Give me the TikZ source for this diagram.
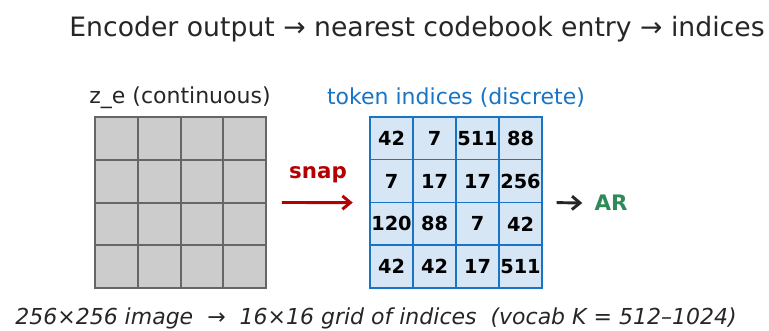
\documentclass[tikz,border=0pt]{standalone}
\usepackage{fontspec}
\setmainfont{DejaVu Sans}
\usetikzlibrary{arrows.meta,positioning}

\definecolor{txtdark}{HTML}{262626}
\definecolor{cellgray}{HTML}{CCCCCC}
\definecolor{edgegray}{HTML}{666666}
\definecolor{cellblue}{HTML}{D6E6F5}
\definecolor{edgeblue}{HTML}{1874C4}
\definecolor{snapred}{HTML}{B40000}
\definecolor{argreen}{HTML}{2E8B57}

\begin{document}
\begin{tikzpicture}[x=0.75pt, y=0.75pt,
  zcell/.style={draw=edgegray, fill=cellgray, line width=1.4pt, minimum size=32pt, inner sep=0pt, outer sep=0pt},
  tcell/.style={draw=edgeblue, fill=cellblue, line width=1.1pt, minimum size=32.2pt, inner sep=0pt, outer sep=0pt, font=\fontsize{14.5}{16}\selectfont\bfseries},
  lbl/.style={font=\fontsize{16.5}{20}\selectfont},
  arr/.style={-{Straight Barb[length=6pt, width=10pt]}, line width=2.2pt}
]
\useasboundingbox (0,0) rectangle (769,330);

\node[text=txtdark, font=\fontsize{20}{24}\selectfont] (title) at (417,301) {Encoder output → nearest codebook entry → indices};

% continuous encoder grid
\foreach \r in {1,...,4}
  \foreach \c in {1,...,4}
    \node[zcell] (z-\r-\c) at ({116.4+42.75*(\c-1)}, {191.6-42.75*(\r-1)}) {};
\node[lbl, text=txtdark] (zlabel) at (180,232) {z\_e (continuous)};

% token index grid
\foreach \r/\row in {1/{42,7,511,88}, 2/{7,17,17,256}, 3/{120,88,7,42}, 4/{42,42,17,511}}
  \foreach \v [count=\c] in \row
    \node[tcell] (t-\r-\c) at ({391.5+43*(\c-1)}, {191.6-42.75*(\r-1)}) {\v};
\node[lbl, text=edgeblue] (tlabel) at (456,232) {token indices (discrete)};

% snap arrow between the grids
\draw[arr, snapred] ([xshift=12pt]z-2-4.south east) -- ([xshift=-13pt]t-2-1.south west);
\node[text=snapred, font=\fontsize{16}{19}\selectfont\bfseries] (snap) at (318,155) {snap};

% on to the AR model
\node[text=argreen, font=\fontsize{16}{19}\selectfont\bfseries, inner sep=2pt] (ar) at (611,127) {AR};
\draw[arr, txtdark] ([xshift=11pt]t-2-4.south east) -- ([xshift=-7pt]ar.west);

\node[text=txtdark, font=\fontsize{16.5}{20}\selectfont\itshape] (foot) at (376,12) {256×256 image~~→~~16×16 grid of indices~~(vocab K = 512–1024)};
\end{tikzpicture}
\end{document}
